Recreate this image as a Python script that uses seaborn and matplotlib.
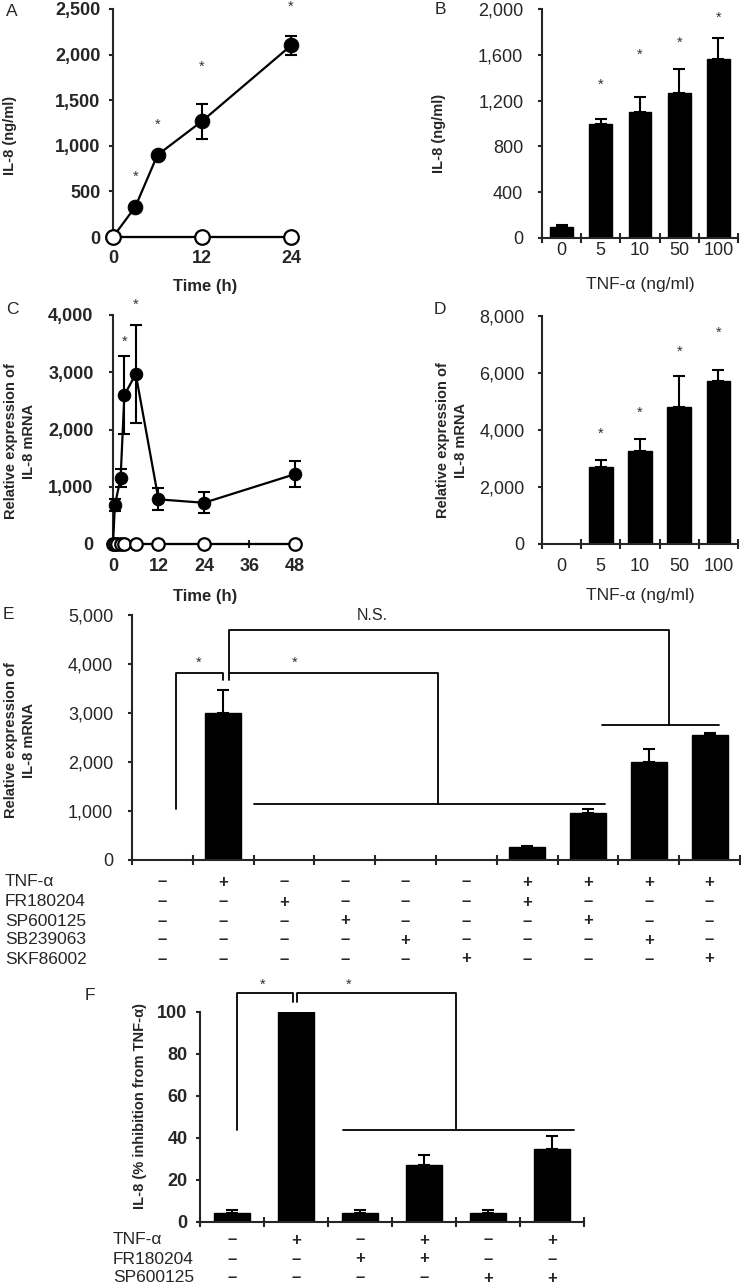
import numpy as np
import matplotlib
matplotlib.use("Agg")
import matplotlib.pyplot as plt
import matplotlib.transforms as mtransforms
from matplotlib.ticker import FuncFormatter
import seaborn as sns

# A: IL-8 secretion time course (ng/ml)
a_time = [0, 3, 6, 12, 24]
a_tnf = [0, 330, 900, 1270, 2100]
a_tnf_err = [0, 25, 25, 190, 100]
a_ctrl_time = [0, 12, 24]
a_ctrl = [0, 0, 0]
a_star_x = [3, 6, 12, 24]
a_star_y = [660, 1230, 1870, 2520]

# B: IL-8 secretion vs TNF-a dose
b_dose = ["0", "5", "10", "50", "100"]
b_il8 = [100, 1000, 1100, 1270, 1560]
b_err = [10, 40, 130, 210, 190]
b_star_y = [None, 1335, 1597, 1705, 1927]

# C: IL-8 mRNA time course
c_time = [0, 0.5, 2, 3, 6, 12, 24, 48]
c_tnf = [0, 680, 1150, 2600, 2970, 780, 720, 1220]
c_tnf_err = [0, 100, 160, 680, 850, 190, 180, 230]
c_ctrl_time = [0, 0.5, 1, 2, 3, 6, 12, 24, 48]
c_ctrl = [0, 0, 0, 0, 0, 0, 0, 0, 0]
c_star_x = [3, 6]
c_star_y = [3530, 4170]

# D: IL-8 mRNA vs dose
d_dose = ["0", "5", "10", "50", "100"]
d_mrna = [0, 2700, 3280, 4800, 5720]
d_err = [0, 250, 420, 1080, 380]
d_star_y = [None, 3850, 4600, 6760, 7400]

# E: inhibitors, IL-8 mRNA
e_groups = ["g1", "g2", "g3", "g4", "g5", "g6", "g7", "g8", "g9", "g10"]
e_mrna = [0, 3000, 0, 0, 0, 0, 270, 950, 2000, 2550]
e_err = [0, 470, 0, 0, 0, 0, 20, 90, 270, 40]
e_rows = ["TNF-α", "FR180204", "SP600125", "SB239063", "SKF86002"]
e_signs = [
    "-+----++++",
    "--+---+---",
    "---+---+--",
    "----+---+-",
    "-----+---+",
]

# F: % inhibition
f_groups = ["g1", "g2", "g3", "g4", "g5", "g6"]
f_pct = [4.5, 100, 4.5, 27, 4.5, 35]
f_err = [1, 0.5, 1, 5, 1, 6]
f_rows = ["TNF-α", "FR180204", "SP600125"]
f_signs = ["-+-+-+", "--++--", "----++"]

W, H = 741, 1287
sns.set_style("ticks")
plt.rcParams["font.family"] = ["Liberation Sans", "DejaVu Sans"]
plt.rcParams["axes.linewidth"] = 1.5

fig = plt.figure(figsize=(W / 100, H / 100), dpi=100)


def add_ax(l, t, r, b):
    return fig.add_axes([l / W, 1 - b / H, (r - l) / W, (b - t) / H])


def ftext(x, y, s, **kw):
    fig.text(x / W, 1 - y / H, s, **kw)


comma = FuncFormatter(lambda v, p: f"{v:,.0f}")


def style(ax, ypad, bold):
    sns.despine(ax=ax)
    ax.yaxis.set_major_formatter(comma)
    ax.tick_params(axis="y", direction="out", length=3, width=1.5, labelsize=13, pad=ypad)
    ax.tick_params(axis="x", labelsize=13)
    for t in ax.get_yticklabels() + ax.get_xticklabels():
        t.set_fontweight("bold" if bold else "normal")


def stars(ax, xs, ys):
    for x, y in zip(xs, ys):
        if y is not None:
            ax.text(x, y, "*", ha="center", va="center", fontsize=10.5, color="#333333", clip_on=False)


def bars(ax, cats, vals, errs, width):
    sns.barplot(x=cats, y=vals, order=cats, color="black", saturation=1, width=width,
                errorbar=None, ax=ax, edgecolor="black")
    idx = [i for i, e in enumerate(errs) if e > 0]
    ax.errorbar([i for i in idx], [vals[i] for i in idx],
                yerr=[[0] * len(idx), [errs[i] for i in idx]],
                fmt="none", ecolor="black", elinewidth=1.5, capsize=4, capthick=1.5)
    ax.set_xlim(-0.5, len(cats) - 0.5)
    ax.set_xticks(np.arange(-0.5, len(cats)), minor=True)
    ax.tick_params(axis="x", which="minor", direction="inout", length=7, width=1.5)
    ax.tick_params(axis="x", which="major", length=0)
    ax.set_xlabel("")
    ax.set_ylabel("")


def timecourse(ax, t, y, err, ct, cy, ms):
    sns.lineplot(x=t, y=y, ax=ax, color="black", marker="o", markersize=ms,
                 markeredgecolor="black", linewidth=1.6, clip_on=False, zorder=4)
    ax.errorbar(t, y, yerr=err, fmt="none", ecolor="black", elinewidth=1.5,
                capsize=4, capthick=1.5, zorder=3, clip_on=False)
    sns.lineplot(x=ct, y=cy, ax=ax, color="black", marker="o", markersize=ms,
                 markerfacecolor="white", markeredgecolor="black", markeredgewidth=1.6,
                 linewidth=1.6, clip_on=False, zorder=5)
    ax.tick_params(axis="x", direction="inout", length=6, width=1.5, pad=6.5)
    ax.set_xlabel("")
    ax.set_ylabel("")


lab = dict(fontsize=10.5, fontweight="bold", ha="center", va="center")
xlab = dict(fontsize=12, fontweight="bold", ha="center", va="center")
letter = dict(fontsize=12.5, ha="center", va="center")

# ---- A
axA = add_ax(113, 9, 297, 237)
timecourse(axA, a_time, a_tnf, a_tnf_err, a_ctrl_time, a_ctrl, 10.5)
axA.set_xlim(0, 24.8)
axA.set_ylim(0, 2500)
axA.set_xticks([0, 12, 24])
axA.set_yticks(np.arange(0, 2501, 500))
style(axA, 6, True)
stars(axA, a_star_x, a_star_y)
ftext(10, 135, "IL-8 (ng/ml)", rotation=90, **lab)
ftext(205, 287, "Time (h)", **xlab)
ftext(12, 12, "A", **letter)

# ---- B
axB = add_ax(542, 9, 738, 238)
bars(axB, b_dose, b_il8, b_err, 0.58)
axB.set_ylim(0, 2000)
axB.set_yticks(np.arange(0, 2001, 400))
axB.tick_params(axis="x", which="major", pad=3)
style(axB, 10.5, False)
stars(axB, range(len(b_dose)), b_star_y)
ftext(439, 133, "IL-8 (ng/ml)", rotation=90, **lab)
ftext(640, 285, "TNF-α (ng/ml)", fontsize=12.5, ha="center", va="center")
ftext(440, 10, "B", **letter)

# ---- C
axC = add_ax(113, 315, 298, 544)
timecourse(axC, c_time, c_tnf, c_tnf_err, c_ctrl_time, c_ctrl, 9)
axC.set_xlim(0, 48.8)
axC.set_ylim(0, 4000)
axC.set_xticks([0, 12, 24, 36, 48])
axC.set_yticks(np.arange(0, 4001, 1000))
axC.tick_params(axis="x", pad=7)
style(axC, 11, True)
stars(axC, c_star_x, c_star_y)
ftext(20, 441, "Relative expression of\nIL-8 mRNA", rotation=90, linespacing=1.45, **lab)
ftext(205, 597, "Time (h)", **xlab)
ftext(12, 310, "C", **letter)

# ---- D
axD = add_ax(542, 316, 738, 544)
bars(axD, d_dose, d_mrna, d_err, 0.6)
axD.set_ylim(0, 8000)
axD.set_yticks(np.arange(0, 8001, 2000))
axD.tick_params(axis="x", which="major", pad=10)
style(axD, 9.5, False)
stars(axD, range(len(d_dose)), d_star_y)
ftext(452, 440, "Relative expression of\nIL-8 mRNA", rotation=90, linespacing=1.45, **lab)
ftext(640, 595, "TNF-α (ng/ml)", fontsize=12.5, ha="center", va="center")
ftext(440, 310, "D", **letter)

# ---- E
axE = add_ax(132, 615, 740, 860)
bars(axE, e_groups, e_mrna, e_err, 0.59)
axE.set_ylim(0, 5000)
axE.set_yticks(np.arange(0, 5001, 1000))
axE.set_xticklabels([])
style(axE, 10.5, False)
stars(axE, [0.6, 2.18], [4020, 4020])
kw = dict(color="black", linewidth=1.3, clip_on=False)
axE.plot([0.22, 0.22, 1.0, 1.0], [1040, 3816, 3816, 3673], **kw)
axE.plot([1.1, 1.1, 4.53, 4.53], [3673, 3816, 3816, 1152], **kw)
axE.plot([1.1, 1.1, 8.33, 8.33], [3816, 4694, 4694, 2764], **kw)
axE.plot([1.5, 7.28], [1152, 1152], **kw)
axE.plot([7.23, 9.16], [2764, 2764], **kw)
axE.text(3.45, 4980, "N.S.", ha="center", va="center", fontsize=11.5)
ftext(20, 740, "Relative expression of\nIL-8 mRNA", rotation=90, linespacing=1.45, **lab)
ftext(8, 615, "E", **letter)
trE = mtransforms.blended_transform_factory(axE.transData, fig.transFigure)
e_row_y = [882, 902, 921, 940, 959]
for name, signs, yy in zip(e_rows, e_signs, e_row_y):
    ftext(5, yy, name, fontsize=12.5, ha="left", va="center")
    for j, s in enumerate(signs):
        axE.text(j, 1 - yy / H, "+" if s == "+" else "–", transform=trE,
                 ha="center", va="center", fontsize=12, fontweight="bold")

# ---- F
axF = add_ax(200, 1012, 584, 1222)
bars(axF, f_groups, f_pct, f_err, 0.56)
axF.set_ylim(0, 100)
axF.set_yticks(np.arange(0, 101, 20))
axF.set_xticklabels([])
style(axF, 6, True)
stars(axF, [0.48, 1.83], [113, 113])
axF.plot([0.08, 0.08, 0.95, 0.95], [44, 109, 109, 105], **kw)
axF.plot([1.02, 1.02, 3.5, 3.5], [105, 109, 109, 44], **kw)
axF.plot([1.73, 5.35], [44, 44], **kw)
ftext(140, 1106, "IL-8 (% inhibition from TNF-α)", rotation=90, **lab)
ftext(90, 995, "F", **letter)
trF = mtransforms.blended_transform_factory(axF.transData, fig.transFigure)
f_row_y = [1240, 1259, 1278]
for name, signs, yy in zip(f_rows, f_signs, f_row_y):
    ftext(113, yy, name, fontsize=12.5, ha="left", va="center")
    for j, s in enumerate(signs):
        axF.text(j, 1 - yy / H, "+" if s == "+" else "–", transform=trF,
                 ha="center", va="center", fontsize=12, fontweight="bold")

fig.savefig("out.png", dpi=100)
